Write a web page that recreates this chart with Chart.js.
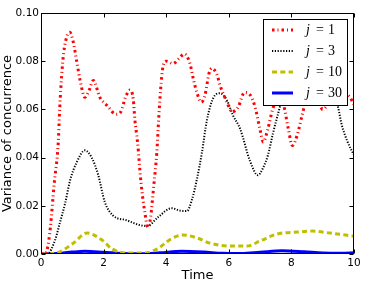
<!DOCTYPE html>
<html>
<head>
<meta charset="utf-8">
<script src="https://cdn.jsdelivr.net/npm/chart.js@4/dist/chart.umd.min.js"></script>
<style>
  html, body { margin: 0; padding: 0; background: #fff; }
  #wrap { width: 372px; height: 283px; position: relative; }
</style>
</head>
<body>
<div id="wrap"><canvas id="chart"></canvas></div>
<script>
// curves (time, variance)
const labels = ['1', '3', '10', '30'];

const tRed = [0, 0.1, 0.2, 0.3, 0.42, 0.55, 0.6, 0.66, 0.72, 0.82, 0.92, 1.03, 1.14, 1.25, 1.4, 1.54, 1.67, 1.88, 2.12, 2.4, 2.55, 2.7, 2.84, 2.95, 3.0, 3.08, 3.2, 3.32, 3.42, 3.5, 3.6, 3.7, 3.76, 3.82, 3.9, 4.0, 4.22, 4.4, 4.58, 4.76, 4.86, 4.98, 5.12, 5.24, 5.37, 5.46, 5.62, 5.72, 5.94, 6.1, 6.3, 6.5, 6.68, 6.84, 7.0, 7.1, 7.25, 7.4, 7.6, 7.75, 7.9, 8.03, 8.2, 8.35, 8.6, 8.8, 9.0, 9.2, 9.45, 9.7, 9.87, 10];
const red = [0, 0, 0.002, 0.011, 0.029, 0.046, 0.061, 0.074, 0.083, 0.090, 0.092, 0.088, 0.080, 0.072, 0.065, 0.068, 0.072, 0.065, 0.0615, 0.058, 0.059, 0.065, 0.068, 0.064, 0.0555, 0.047, 0.029, 0.017, 0.011, 0.015, 0.028, 0.042, 0.056, 0.068, 0.078, 0.080, 0.079, 0.081, 0.083, 0.079, 0.073, 0.067, 0.063, 0.066, 0.075, 0.077, 0.0745, 0.070, 0.063, 0.059, 0.061, 0.067, 0.066, 0.061, 0.0515, 0.0465, 0.052, 0.060, 0.066, 0.062, 0.052, 0.045, 0.050, 0.058, 0.069, 0.066, 0.060, 0.063, 0.069, 0.067, 0.065, 0.062];

const tBlack = [0, 0.2, 0.45, 0.6, 0.77, 0.93, 1.14, 1.4, 1.62, 1.83, 2.04, 2.3, 2.74, 3.16, 3.4, 3.74, 4.18, 4.44, 4.66, 4.82, 4.98, 5.14, 5.3, 5.5, 5.72, 5.94, 6.13, 6.36, 6.68, 6.93, 7.09, 7.25, 7.41, 7.57, 7.7, 8.0, 8.5, 8.9, 9.3, 9.49, 9.6, 9.78, 10];
const black = [0, 0, 0.0058, 0.0128, 0.021, 0.0306, 0.038, 0.043, 0.040, 0.0327, 0.0215, 0.016, 0.014, 0.012, 0.0116, 0.0153, 0.019, 0.018, 0.0178, 0.0224, 0.031, 0.042, 0.0555, 0.0646, 0.0667, 0.0638, 0.0576, 0.052, 0.0385, 0.0327, 0.0356, 0.041, 0.050, 0.058, 0.064, 0.072, 0.077, 0.076, 0.068, 0.061, 0.054, 0.047, 0.041];

const tYellow = [0, 0.3, 0.6, 1.03, 1.47, 1.95, 2.27, 2.75, 3.3, 3.7, 4.2, 4.55, 5.0, 5.4, 6.04, 6.58, 7.0, 7.54, 8.18, 8.66, 9.23, 10];
const yellow = [0, 0.0001, 0.0009, 0.0045, 0.0087, 0.0058, 0.0021, 0.0004, 0.0004, 0.002, 0.0066, 0.0079, 0.0066, 0.0045, 0.0033, 0.0033, 0.0054, 0.0083, 0.0091, 0.0095, 0.0087, 0.0074];

const tBlue = [0, 0.5, 1.0, 1.4, 2.0, 2.6, 3.2, 3.8, 4.5, 5.2, 5.8, 6.4, 7.0, 7.7, 8.4, 9.0, 9.6, 10];
const blue = [0, 0.0002, 0.0008, 0.0011, 0.0007, 0.0002, 0.0001, 0.0005, 0.0011, 0.0008, 0.0003, 0.0002, 0.0007, 0.0013, 0.0009, 0.0004, 0.0003, 0.0005];

const xTicks = [0, 2, 4, 6, 8, 10];
const yTicks = [0, 0.02, 0.04, 0.06, 0.08, 0.10];

function pts(t, v) {
  return t.map((x, i) => ({ x: x, y: v[i] }));
}

function line(label, t, v, color, width, dash) {
  return {
    label: label,
    data: pts(t, v),
    borderColor: color,
    borderWidth: width,
    borderDash: dash,
    pointRadius: 0,
    fill: false,
    cubicInterpolationMode: 'monotone'
  };
}

Chart.defaults.font.family = 'DejaVu Sans';
Chart.defaults.color = '#000';

// frame, inward ticks on all four sides and the boxed legend
const framePlugin = {
  id: 'frame',
  afterDraw(chart) {
    const c = chart.ctx;
    const a = chart.chartArea;
    const xs = chart.scales.x, ys = chart.scales.y;
    const L = Math.round(a.left) + 0.5, R = Math.round(a.right) - 0.5;
    const T = Math.round(a.top) + 0.5, B = Math.round(a.bottom) - 0.5;
    c.save();
    c.strokeStyle = '#000';
    c.lineWidth = 1;
    c.setLineDash([]);
    c.strokeRect(L, T, R - L, B - T);
    c.beginPath();
    xTicks.forEach(v => {
      const px = Math.round(xs.getPixelForValue(v)) + 0.5;
      c.moveTo(px, B); c.lineTo(px, B - 4);
      c.moveTo(px, T); c.lineTo(px, T + 4);
    });
    yTicks.forEach(v => {
      const py = Math.round(ys.getPixelForValue(v)) + 0.5;
      c.moveTo(L, py); c.lineTo(L + 4, py);
      c.moveTo(R, py); c.lineTo(R - 4, py);
    });
    c.stroke();

    // legend box
    c.fillStyle = '#fff';
    c.fillRect(263.5, 19.5, 84, 86);
    c.strokeRect(263.5, 19.5, 84, 86);
    chart.data.datasets.forEach((ds, i) => {
      const y = 30 + i * 21;
      c.beginPath();
      c.strokeStyle = ds.borderColor;
      c.lineWidth = ds.borderWidth;
      c.setLineDash(ds.borderDash || []);
      c.moveTo(272, y); c.lineTo(293, y);
      c.stroke();
      c.setLineDash([]);
      c.fillStyle = '#000';
      c.textBaseline = 'middle';
      c.textAlign = 'left';
      c.font = 'italic 14px "Liberation Serif"';
      c.fillText('j', 306, y + 0.5);
      c.font = '14px "Liberation Serif"';
      c.fillText('=', 316, y + 0.5);
      c.fillText(labels[i], 328, y + 0.5);
    });
    c.restore();
  }
};

new Chart(document.getElementById('chart'), {
  type: 'line',
  data: {
    datasets: [
      line('j=1', tRed, red, '#ff0000', 3, [2.5, 3, 1, 3]),
      line('j=3', tBlack, black, '#000000', 2, [1.2, 1.6]),
      line('j=10', tYellow, yellow, '#bfbf00', 3, [5, 3.3]),
      line('j=30', tBlue, blue, '#0000ff', 3, [])
    ]
  },
  options: {
    responsive: true,
    maintainAspectRatio: false,
    animation: false,
    layout: { padding: { left: 0, right: 18, top: 13, bottom: 0 } },
    plugins: { legend: { display: false }, tooltip: { enabled: false } },
    scales: {
      x: {
        type: 'linear',
        min: 0, max: 10,
        afterBuildTicks: s => { s.ticks = xTicks.map(v => ({ value: v })); },
        afterFit: s => { s.height = 29; },
        grid: { display: false, drawTicks: false },
        border: { display: false },
        ticks: { font: { size: 10.5 }, padding: 3, maxRotation: 0, color: '#000' },
        title: { display: true, text: 'Time', font: { size: 13 }, padding: { top: 0, bottom: 0 }, color: '#000' }
      },
      y: {
        type: 'linear',
        min: 0, max: 0.1,
        afterBuildTicks: s => { s.ticks = yTicks.map(v => ({ value: v })); },
        afterFit: s => { s.width = 41; },
        grid: { display: false, drawTicks: false },
        border: { display: false },
        ticks: { font: { size: 10.5 }, padding: 2, color: '#000', callback: v => v.toFixed(2) },
        title: { display: true, text: 'Variance of concurrence', font: { size: 13 }, padding: { top: 0, bottom: 0 }, color: '#000' }
      }
    }
  },
  plugins: [framePlugin]
});
</script>
</body>
</html>
